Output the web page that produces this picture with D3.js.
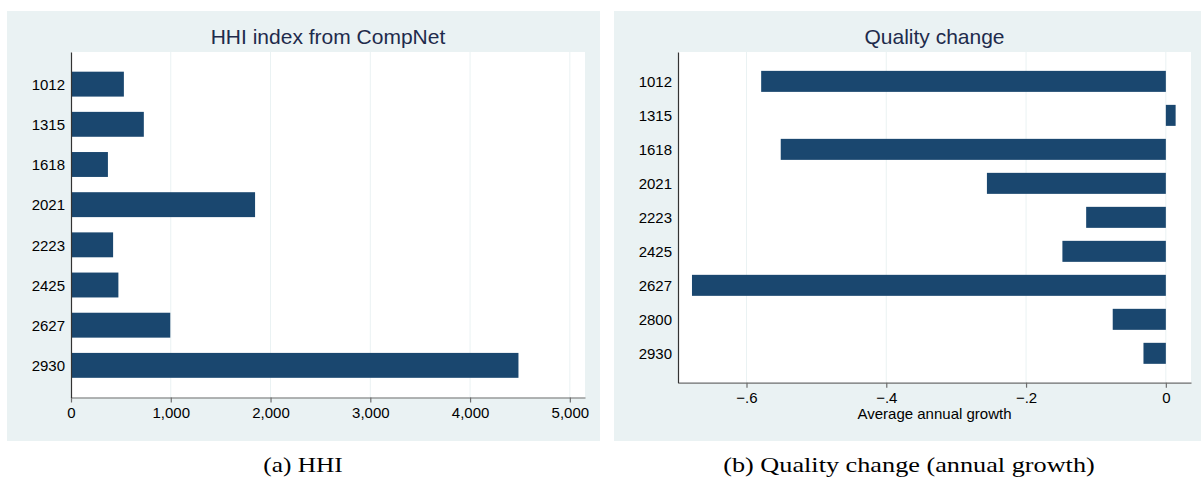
<!DOCTYPE html>
<html>
<head>
<meta charset="utf-8">
<script src="https://cdn.jsdelivr.net/npm/d3@7"></script>
<style>
  body { margin: 0; background: #fff; }
  svg { display: block; }
</style>
</head>
<body>
<div id="chart"></div>
<script>
// HHI panel (a)
const hhiCategories = ['1012', '1315', '1618', '2021', '2223', '2425', '2627', '2930'];
const hhiValues = [530, 730, 370, 1845, 422, 475, 995, 4485];
const hhiTicks = [0, 1000, 2000, 3000, 4000, 5000];

// Quality change panel (b)
const qualityCategories = ['1012', '1315', '1618', '2021', '2223', '2425', '2627', '2800', '2930'];
const qualityValues = [-0.579, 0.014, -0.551, -0.256, -0.114, -0.148, -0.678, -0.076, -0.032];
const qualityTicks = [-0.6, -0.4, -0.2, 0];

const width = 1201;
const height = 478;
const barColor = '#1a476f';
const panelBg = '#eaf2f3';
const sans = '"Liberation Sans", Arial, sans-serif';
const serif = '"Liberation Serif", "Times New Roman", serif';

const svg = d3.select('#chart')
  .append('svg')
  .attr('width', width)
  .attr('height', height);

svg.append('rect')
  .attr('width', width)
  .attr('height', height)
  .attr('fill', '#fff');

function stataNum(d) {
  if (d === 0) return '0';
  const s = d3.format('.1f')(Math.abs(d)).replace(/^0/, '');
  return (d < 0 ? '\u2212' : '') + s;
}

function drawPanel(cfg) {
  const g = svg.append('g');

  // panel background
  g.append('rect')
    .attr('x', cfg.bg[0])
    .attr('y', cfg.bg[1])
    .attr('width', cfg.bg[2] - cfg.bg[0])
    .attr('height', cfg.bg[3] - cfg.bg[1])
    .attr('fill', panelBg);

  const [left, top, right, bottom] = cfg.plot;

  // plot region
  g.append('rect')
    .attr('x', left)
    .attr('y', top)
    .attr('width', right - left)
    .attr('height', bottom - top)
    .attr('fill', '#fff');

  const x = d3.scaleLinear()
    .domain(cfg.domain)
    .range([left, right]);

  const y = d3.scaleBand()
    .domain(cfg.categories)
    .range([top, bottom])
    .paddingInner(cfg.padInner)
    .paddingOuter(cfg.padOuter);

  // Grid lines
  g.append('g')
    .selectAll('line')
    .data(cfg.ticks)
    .enter()
    .append('line')
    .attr('x1', d => x(d))
    .attr('x2', d => x(d))
    .attr('y1', top)
    .attr('y2', bottom)
    .attr('stroke', panelBg)
    .attr('stroke-width', 1);

  // Bars
  g.append('g')
    .selectAll('rect')
    .data(cfg.values)
    .enter()
    .append('rect')
    .attr('x', d => x(Math.min(0, d)))
    .attr('y', (d, i) => y(cfg.categories[i]))
    .attr('width', d => Math.abs(x(d) - x(0)))
    .attr('height', y.bandwidth())
    .attr('fill', barColor);

  // X Axis
  const xAxis = g.append('g')
    .attr('transform', `translate(0,${bottom})`)
    .call(d3.axisBottom(x)
      .tickValues(cfg.ticks)
      .tickSize(5)
      .tickSizeOuter(0)
      .tickPadding(4.5)
      .tickFormat(cfg.format));
  xAxis.select('.domain').attr('stroke', '#6e6e6e').attr('stroke-width', 1.2);
  xAxis.selectAll('.tick line').attr('stroke', '#6e6e6e').attr('stroke-width', 1.2);
  xAxis.selectAll('text')
    .attr('fill', '#000')
    .style('font-family', sans)
    .style('font-size', '15px');

  // Y Axis
  const yAxis = g.append('g')
    .attr('transform', `translate(${left},0)`)
    .call(d3.axisLeft(y).tickSize(0).tickSizeOuter(0).tickPadding(6));
  yAxis.select('.domain').attr('stroke', '#333').attr('stroke-width', 1.2);
  yAxis.selectAll('text')
    .attr('fill', '#000')
    .attr('dy', '0.38em')
    .style('font-family', sans)
    .style('font-size', '15px');

  // Title
  g.append('text')
    .attr('x', (left + right) / 2)
    .attr('y', 43.5)
    .attr('text-anchor', 'middle')
    .attr('fill', '#1e2b4c')
    .style('font-family', sans)
    .style('font-size', '21px')
    .text(cfg.title);

  if (cfg.xTitle) {
    g.append('text')
      .attr('x', (left + right) / 2)
      .attr('y', bottom + 36.5)
      .attr('text-anchor', 'middle')
      .attr('fill', '#000')
      .style('font-family', sans)
      .style('font-size', '15px')
      .text(cfg.xTitle);
  }

  // Caption under panel
  g.append('text')
    .attr('x', cfg.caption.x)
    .attr('y', 472)
    .attr('text-anchor', 'middle')
    .attr('fill', '#000')
    .attr('textLength', cfg.caption.len)
    .attr('lengthAdjust', 'spacingAndGlyphs')
    .style('font-family', serif)
    .style('font-size', '21px')
    .text(cfg.caption.text);
}

drawPanel({
  bg: [7, 11, 600, 441],
  plot: [71, 52, 585, 397.5],
  domain: [0, 5152],
  categories: hhiCategories,
  values: hhiValues,
  ticks: hhiTicks,
  format: d3.format(','),
  padInner: 0.38,
  padOuter: 0.49,
  title: 'HHI index from CompNet',
  caption: { x: 303, len: 79.5, text: '(a) HHI' }
});

drawPanel({
  bg: [614, 11, 1201, 441],
  plot: [678, 52, 1191, 382.7],
  domain: [-0.698, 0.036],
  categories: qualityCategories,
  values: qualityValues,
  ticks: qualityTicks,
  format: stataNum,
  padInner: 0.382,
  padOuter: 0.555,
  title: 'Quality change',
  xTitle: 'Average annual growth',
  caption: { x: 909, len: 371.6, text: '(b) Quality change (annual growth)' }
});
</script>
</body>
</html>
